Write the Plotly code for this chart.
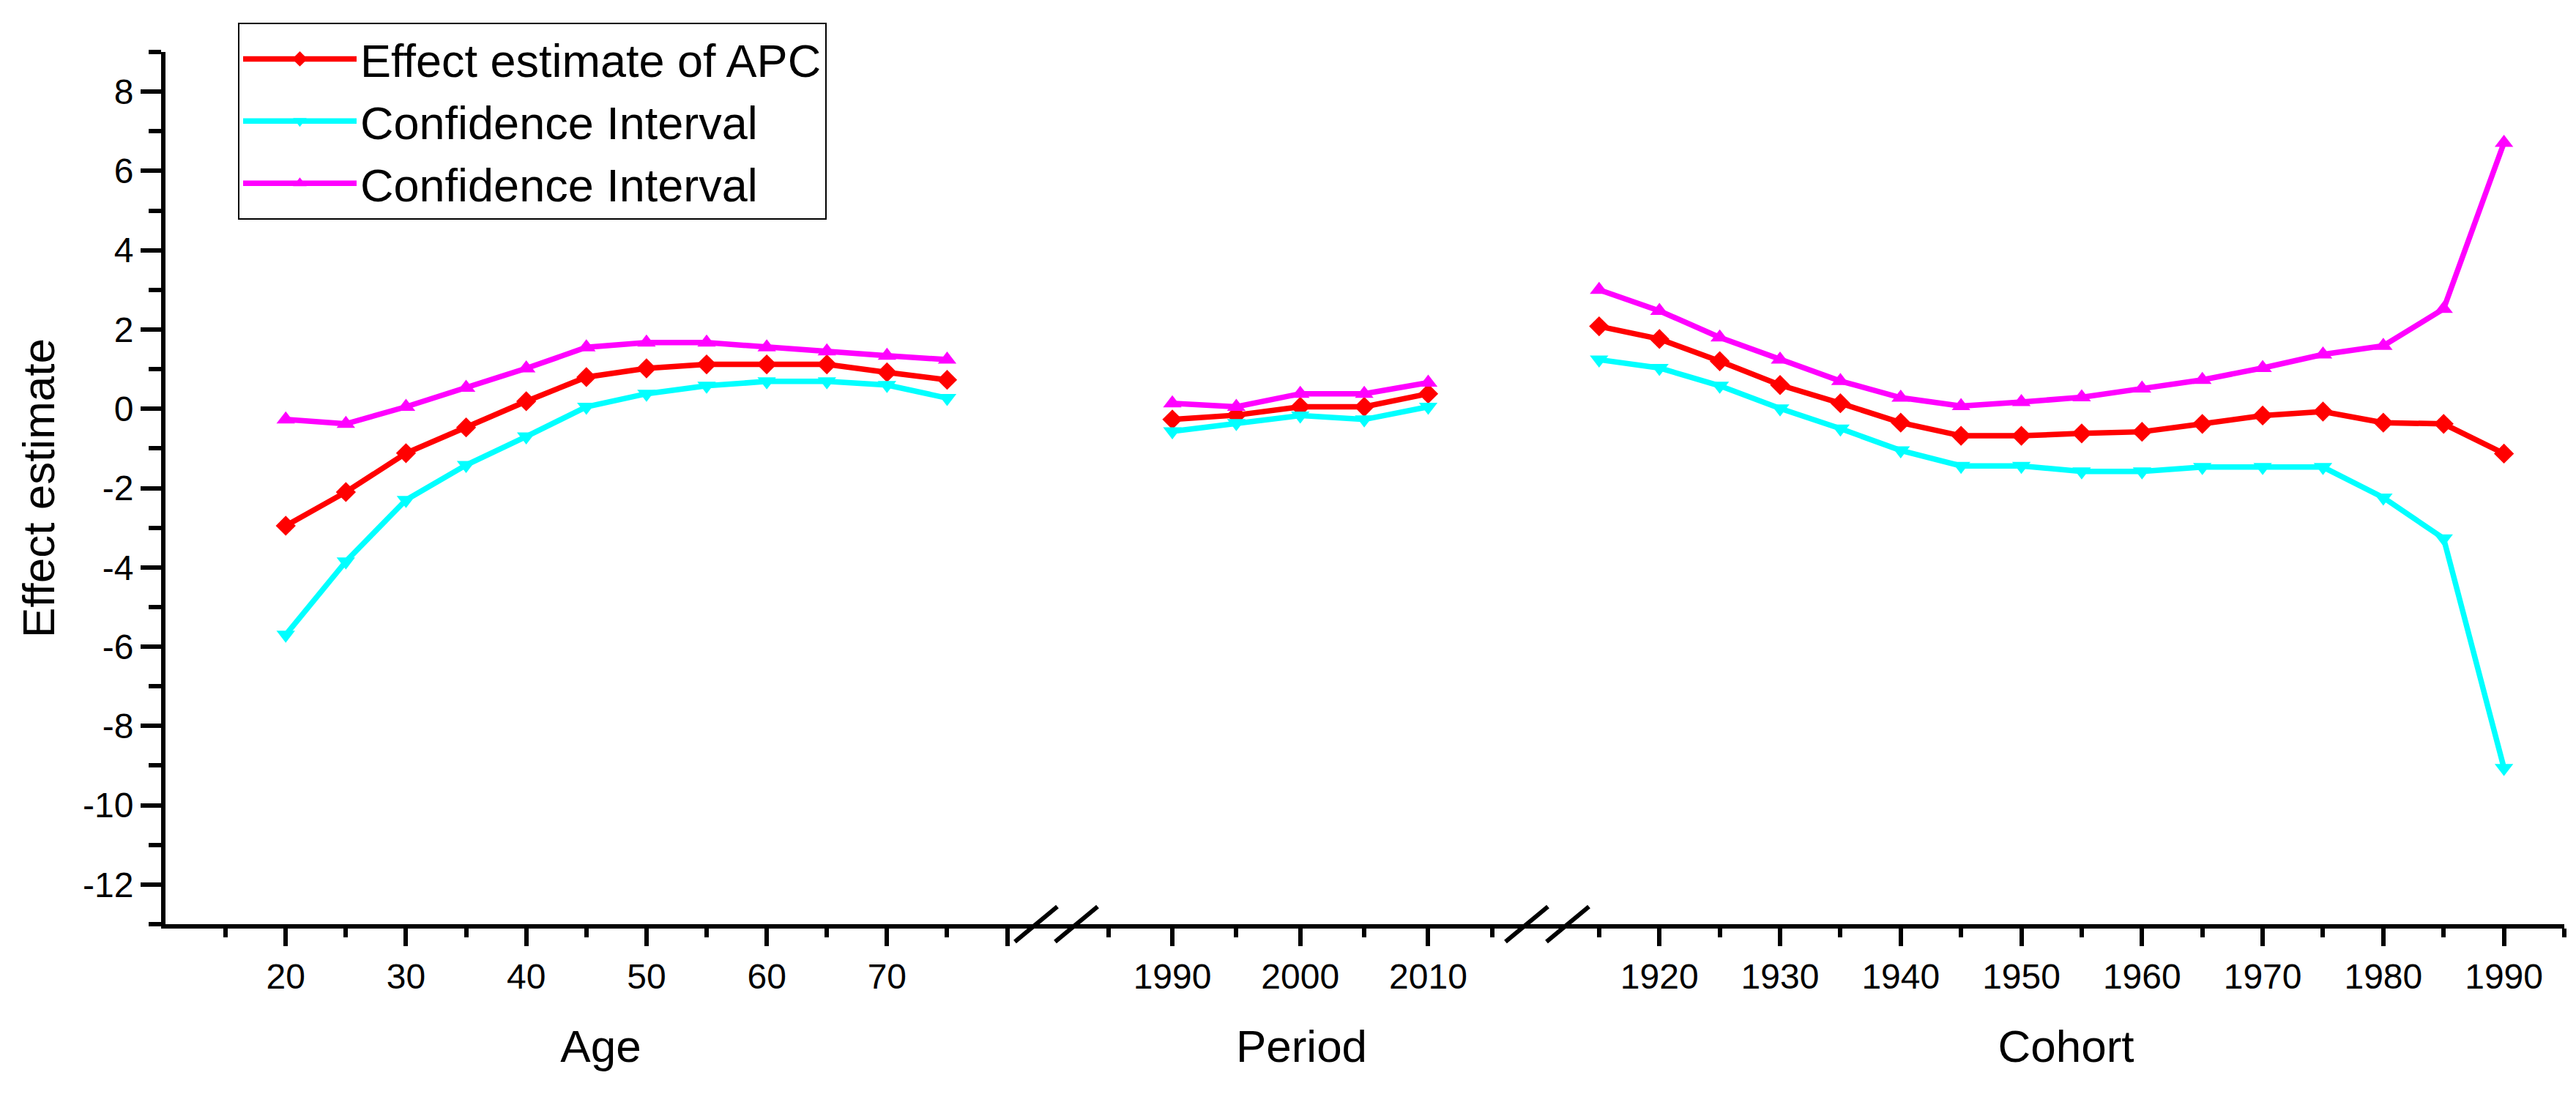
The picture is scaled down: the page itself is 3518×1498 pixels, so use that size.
import plotly.graph_objects as go

# ---------------- data ----------------
age = [20, 25, 30, 35, 40, 45, 50, 55, 60, 65, 70, 75]
age_apc = [-2.95, -2.10, -1.12, -0.47, 0.19, 0.80, 1.02, 1.12, 1.12, 1.12, 0.92, 0.73]
age_low = [-5.70, -3.85, -2.30, -1.42, -0.70, 0.05, 0.38, 0.58, 0.69, 0.69, 0.60, 0.27]
age_up = [-0.27, -0.38, 0.05, 0.53, 1.02, 1.55, 1.67, 1.67, 1.55, 1.45, 1.34, 1.24]

period = [1990, 1995, 2000, 2005, 2010]
period_apc = [-0.27, -0.16, 0.05, 0.05, 0.38]
period_low = [-0.57, -0.36, -0.17, -0.27, 0.05]
period_up = [0.14, 0.05, 0.38, 0.38, 0.66]

cohort = [1915, 1920, 1925, 1930, 1935, 1940, 1945, 1950, 1955, 1960,
          1965, 1970, 1975, 1980, 1985, 1990]
cohort_apc = [2.08, 1.76, 1.20, 0.60, 0.14, -0.35, -0.68, -0.68, -0.62, -0.58,
              -0.38, -0.17, -0.07, -0.35, -0.38, -1.13]
cohort_low = [1.24, 1.03, 0.58, 0.01, -0.50, -1.05, -1.44, -1.44, -1.58, -1.58,
              -1.47, -1.47, -1.47, -2.24, -3.27, -9.06]
cohort_up = [3.00, 2.47, 1.80, 1.24, 0.70, 0.28, 0.07, 0.17, 0.29, 0.51,
             0.73, 1.03, 1.37, 1.59, 2.52, 6.71]

series_names = ["Effect estimate of APC", "Confidence Interval", "Confidence Interval"]
y_ticks = [-12, -10, -8, -6, -4, -2, 0, 2, 4, 6, 8]
y_minor = [-13, -11, -9, -7, -5, -3, -1, 1, 3, 5, 7, 9]
age_ticks = [20, 30, 40, 50, 60, 70, 80]
age_labels = ["20", "30", "40", "50", "60", "70", ""]
age_minor = [15, 25, 35, 45, 55, 65, 75]
period_ticks = [1990, 2000, 2010]
period_minor = [1985, 1995, 2005, 2015]
cohort_ticks = [1920, 1930, 1940, 1950, 1960, 1970, 1980, 1990]
cohort_minor = [1915, 1925, 1935, 1945, 1955, 1965, 1975, 1985, 1995]

# ---------------- styling ----------------
W, H = 3518, 1498
ML, MR, MT, MB = 218, 24, 63, 244
PW = W - ML - MR
PH = H - MT - MB
FONT = "Arial, Liberation Sans, sans-serif"
colors = ["#FF0000", "#00FFFF", "#FF00FF"]
symbols = ["diamond", "triangle-down", "triangle-up"]
msizes = [21, 22, 22]

dom_age = [0.0, 0.36294]
dom_per = [0.37973, 0.56746]
dom_coh = [0.58456, 1.0]

fig = go.Figure()
segments = [
    ("x", age, [age_apc, age_low, age_up]),
    ("x2", period, [period_apc, period_low, period_up]),
    ("x3", cohort, [cohort_apc, cohort_low, cohort_up]),
]
for si, (xa, xs, ys_list) in enumerate(segments):
    for k, ys in enumerate(ys_list):
        fig.add_trace(go.Scatter(
            x=xs, y=ys, xaxis=xa, yaxis="y",
            mode="lines+markers",
            name=series_names[k],
            legendgroup=f"s{k}",
            showlegend=(si == 0),
            line=dict(color=colors[k], width=7.5),
            marker=dict(symbol=symbols[k], size=msizes[k], color=colors[k],
                        line=dict(width=0)),
        ))

tickfont = dict(family=FONT, size=48, color="black")
titlefont = dict(family=FONT, size=62, color="black")


def xaxis_cfg(domain, rng, ticks, labels, minor, title):
    return dict(
        domain=domain, range=rng, anchor="y",
        showline=True, linewidth=6, linecolor="black",
        showgrid=False, zeroline=False,
        ticks="outside", ticklen=24, tickwidth=6, tickcolor="black",
        tickmode="array", tickvals=ticks, ticktext=labels,
        minor=dict(tickmode="array", tickvals=minor, ticks="outside",
                   ticklen=12, tickwidth=6, tickcolor="black", showgrid=False),
        tickfont=tickfont,
        title=dict(text=title, font=titlefont, standoff=50),
        automargin=False,
    )


fig.update_layout(
    width=W, height=H,
    margin=dict(l=ML, r=MR, t=MT, b=MB, pad=0),
    paper_bgcolor="white", plot_bgcolor="white",
    font=dict(family=FONT, color="black"),
    xaxis=xaxis_cfg(dom_age, [10, 82.4], age_ticks, age_labels, age_minor, "Age"),
    xaxis2=xaxis_cfg(dom_per, [1982.5, 2017.7], period_ticks,
                     [str(v) for v in period_ticks], period_minor, "Period"),
    xaxis3=xaxis_cfg(dom_coh, [1912.4, 1995], cohort_ticks,
                     [str(v) for v in cohort_ticks], cohort_minor, "Cohort"),
    yaxis=dict(
        range=[-13, 9], anchor="x",
        showline=True, linewidth=6, linecolor="black",
        showgrid=False, zeroline=False,
        ticks="outside", ticklen=28, tickwidth=6, tickcolor="black",
        tickmode="array", tickvals=y_ticks, ticktext=[str(v) for v in y_ticks],
        minor=dict(tickmode="array", tickvals=y_minor, ticks="outside",
                   ticklen=17, tickwidth=6, tickcolor="black", showgrid=False),
        tickfont=tickfont,
        title=dict(text="Effect estimate", font=titlefont, standoff=20),
        automargin=False,
    ),
    legend=dict(
        x=(317 - ML) / PW, y=(MT + PH - 23) / PH, xanchor="left", yanchor="top",
        bgcolor="white", bordercolor="black", borderwidth=2,
        font=dict(family=FONT, size=63, color="black"),
        itemwidth=155, tracegroupgap=0,
    ),
    showlegend=True,
)

# continuous axis line through the breaks and the break slashes
shapes = []
line_y = -3 / PH
for a, b in [(dom_age[1], dom_per[0]), (dom_per[1], dom_coh[0])]:
    shapes.append(dict(type="line", xref="paper", yref="paper",
                       x0=a, x1=b, y0=line_y, y1=line_y,
                       line=dict(color="black", width=6)))
    for c in (a, b):
        shapes.append(dict(type="line", xref="paper", yref="paper",
                           x0=c - 29 / PW, x1=c + 29 / PW,
                           y0=-24 / PH, y1=24 / PH,
                           line=dict(color="black", width=6)))
fig.update_layout(shapes=shapes)

fig.write_html("out.html")
